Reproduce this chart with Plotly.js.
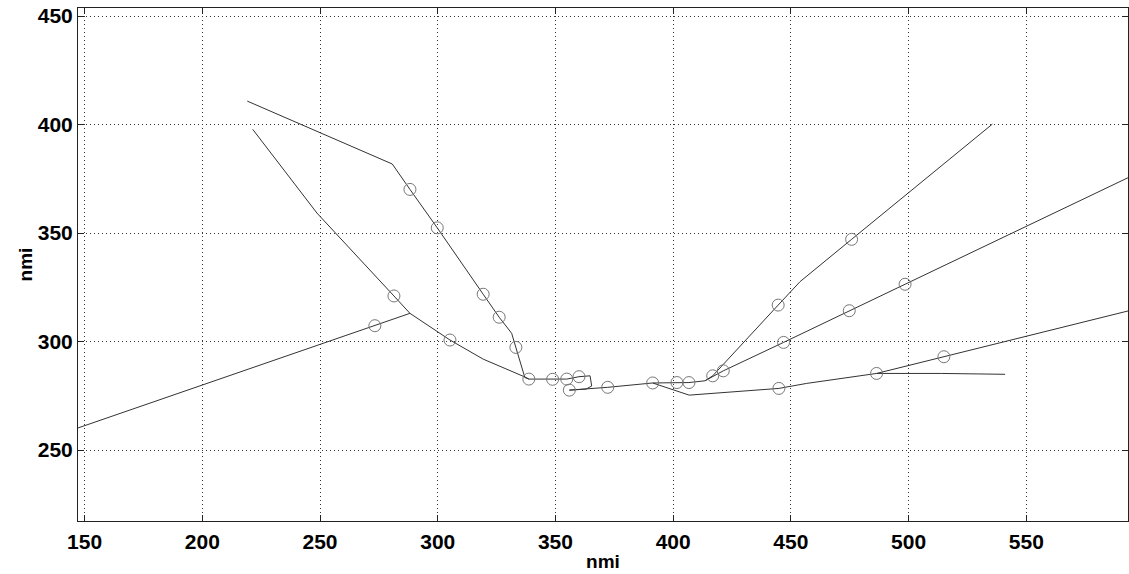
<!DOCTYPE html>
<html>
<head>
<meta charset="utf-8">
<script src="https://cdn.plot.ly/plotly-3.0.1.min.js"></script>
<style>html,body{margin:0;padding:0;background:#fff;}#chart{width:1129px;height:574px;}</style>
</head>
<body>
<div id="chart"></div>
<script>
// Track polylines (nmi)
const trackA_x = [219.1, 280.7, 288.2, 299.8, 319.3, 326.1, 331.4, 333.2, 337.0, 338.7, 348.8, 354.8, 360.0, 364.7, 365.4, 363.0, 355.9];
const trackA_y = [410.8, 381.8, 370.1, 352.4, 321.8, 311.2, 303.8, 297.3, 283.4, 282.7, 282.6, 282.7, 283.8, 284.2, 279.5, 278.1, 277.6];
const trackB_x = [221.4, 248.7, 281.4, 288.2, 305.2, 319.3, 337.8, 338.7];
const trackB_y = [397.8, 359.2, 321.0, 313.0, 300.7, 291.9, 283.3, 282.7];
const trackC_x = [147.0, 273.3, 288.2];
const trackC_y = [260.1, 307.3, 313.0];
const trackMid_x = [355.9, 363.0, 372.2, 391.3, 401.6, 406.7, 413.5];
const trackMid_y = [277.6, 278.1, 278.9, 280.9, 281.1, 281.1, 281.9];
const trackD_x = [413.5, 416.8, 444.6, 453.9, 475.8, 535.6];
const trackD_y = [281.9, 284.2, 316.8, 327.6, 347.1, 400.2];
const trackE_x = [413.5, 421.3, 446.9, 474.8, 498.5, 594.0];
const trackE_y = [281.9, 286.5, 299.6, 314.2, 326.4, 375.9];
const trackF_x = [391.3, 406.8, 444.9, 456.7, 486.4, 515.0, 594.0];
const trackF_y = [280.9, 275.3, 278.4, 280.7, 285.3, 293.0, 314.3];
const trackG_x = [486.4, 514.1, 541.0];
const trackG_y = [285.3, 285.3, 284.9];
// Circle markers (nmi)
const circle_x = [288.2, 299.8, 319.3, 326.1, 333.2, 338.7, 281.4, 305.2, 273.3, 348.8, 354.8, 360.0, 355.9, 372.2, 391.3, 401.6, 406.7, 416.8, 444.6, 475.8, 421.3, 446.9, 474.8, 498.5, 444.9, 486.4, 515.0];
const circle_y = [370.1, 352.4, 321.8, 311.2, 297.3, 282.7, 321.0, 300.7, 307.3, 282.6, 282.7, 283.8, 277.6, 278.9, 280.9, 281.1, 281.1, 284.2, 316.8, 347.1, 286.5, 299.6, 314.2, 326.4, 278.4, 285.3, 293.0];
const xTicks = [150, 200, 250, 300, 350, 400, 450, 500, 550];
const yTicks = [250, 300, 350, 400, 450];

const lineStyle = {color: '#333', width: 1};
const tracks = [
  [trackA_x, trackA_y], [trackB_x, trackB_y], [trackC_x, trackC_y],
  [trackMid_x, trackMid_y], [trackD_x, trackD_y], [trackE_x, trackE_y],
  [trackF_x, trackF_y], [trackG_x, trackG_y]
];
const data = tracks.map(t => ({x: t[0], y: t[1], mode: 'lines', type: 'scatter', line: lineStyle, hoverinfo: 'skip', showlegend: false}));
data.push({x: circle_x, y: circle_y, mode: 'markers', type: 'scatter', showlegend: false,
  marker: {symbol: 'circle-open', size: 12, color: '#777', line: {width: 1, color: '#777'}}});

const fontFam = 'Liberation Sans, Arial, sans-serif';
const axisCommon = {
  showline: true, linecolor: '#222', linewidth: 1, mirror: 'ticks',
  ticks: 'inside', ticklen: 6, tickcolor: '#222', tickwidth: 1,
  showgrid: true, gridcolor: '#333', griddash: '1px,3px', gridwidth: 1,
  zeroline: false,
  tickfont: {family: fontFam, size: 21, color: '#000', weight: 'bold'}
};
const layout = {
  width: 1129, height: 574,
  margin: {l: 78, r: 1, t: 8, b: 53},
  paper_bgcolor: '#fff', plot_bgcolor: '#fff',
  xaxis: Object.assign({}, axisCommon, {
    range: [147.2, 593.2], tickvals: xTicks, ticktext: xTicks.map(String),
    ticklabelstandoff: 2,
    title: {text: '<b>nmi</b>', font: {family: fontFam, size: 19, color: '#000'}, standoff: 2}
  }),
  yaxis: Object.assign({}, axisCommon, {
    range: [217.3, 453.7], tickvals: yTicks, ticktext: yTicks.map(String),
    title: {text: '<b>nmi</b>', font: {family: fontFam, size: 19, color: '#000'}, standoff: 0}
  })
};
Plotly.newPlot('chart', data, layout, {staticPlot: true});
</script>
</body>
</html>
